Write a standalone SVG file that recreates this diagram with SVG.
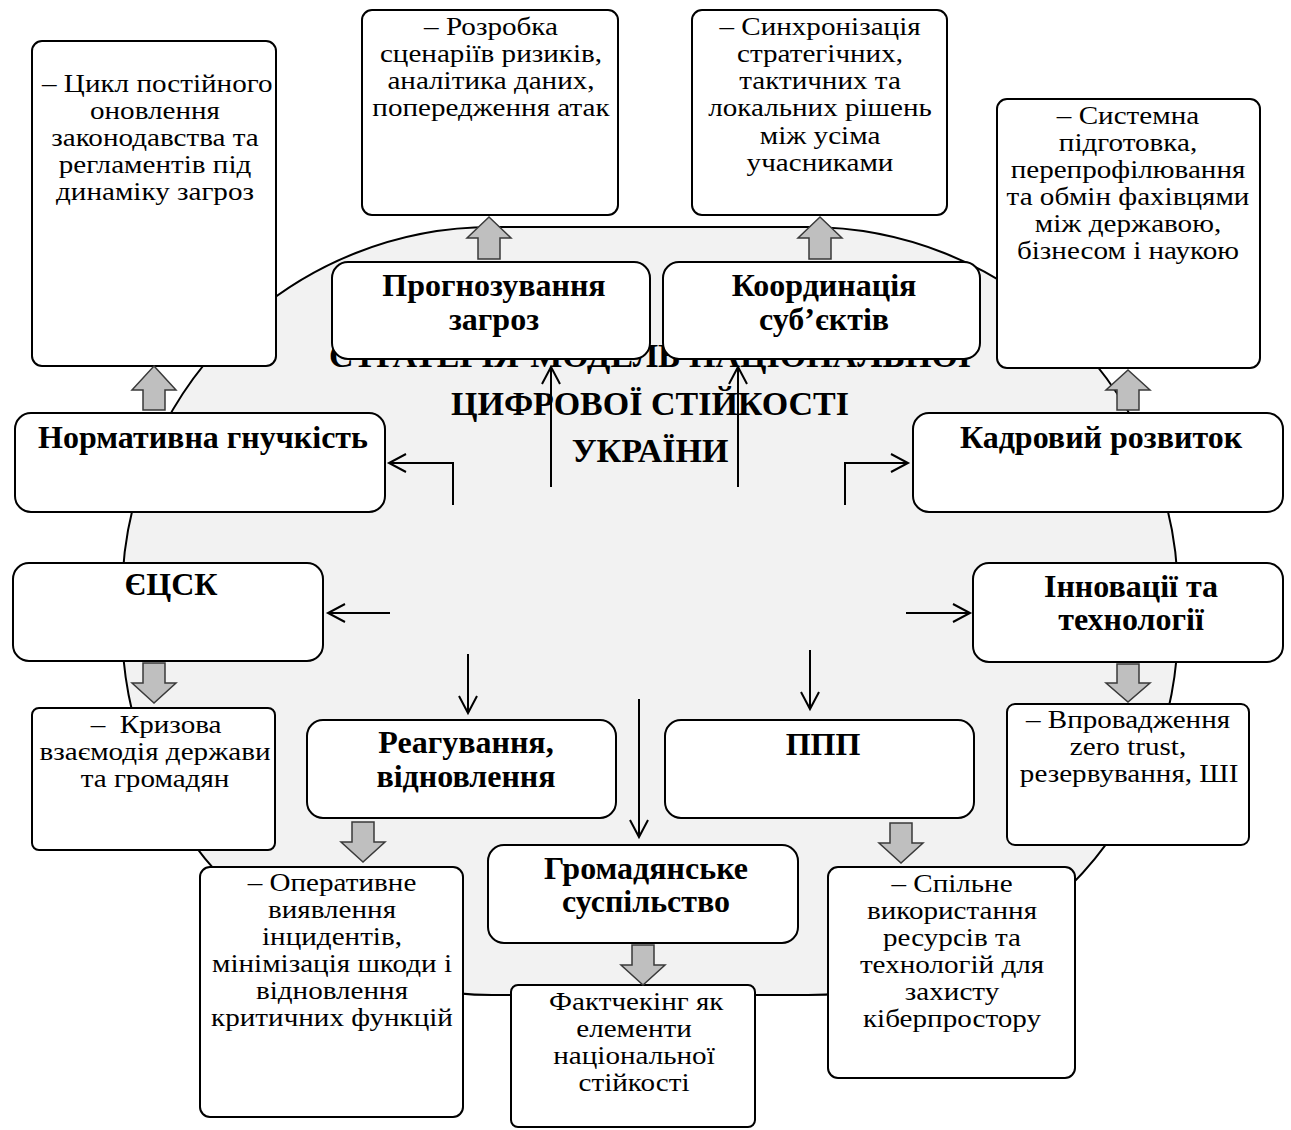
<svg xmlns="http://www.w3.org/2000/svg" width="1291" height="1130" viewBox="0 0 1291 1130">
<defs>
<style>
.bg{fill:#ffffff}
.core{fill:#f2f2f2;stroke:#000;stroke-width:2}
.c{fill:#fff;stroke:#000;stroke-width:2}
.n{fill:#fff;stroke:#000;stroke-width:2}
.ba{fill:#bfbfbf;stroke:#3a3a3a;stroke-width:1.5;stroke-linejoin:miter}
.ln{fill:none;stroke:#000;stroke-width:2}
.t{font-family:"Liberation Serif","Times New Roman",serif;font-size:26px;fill:#000;text-anchor:middle}
.h{font-family:"Liberation Serif","Times New Roman",serif;font-size:32px;font-weight:bold;fill:#000;text-anchor:middle}
.title{font-family:"Liberation Serif","Times New Roman",serif;font-size:34px;font-weight:bold;fill:#000;text-anchor:middle}
</style>
<marker id="ah" markerUnits="userSpaceOnUse" markerWidth="22" markerHeight="22" refX="18" refY="10" orient="auto">
<path d="M1,1 L18,10 L1,19" fill="none" stroke="#000" stroke-width="2"/>
</marker>
</defs>
<rect class="bg" x="0" y="0" width="1291" height="1130"/>
<g id="core">
<rect class="core" x="122" y="227" width="1056" height="768" rx="370" ry="370"/>
<text class="title"><tspan x="650" y="367">СТРАТЕГІЯ-МОДЕЛЬ НАЦІОНАЛЬНОЇ</tspan><tspan x="650" y="415">ЦИФРОВОЇ СТІЙКОСТІ</tspan><tspan x="650" y="462">УКРАЇНИ</tspan></text>
</g>
<g id="desc-law">
<rect class="c" x="32" y="41" width="244" height="325" rx="10"/>
<text class="t" transform="translate(155 0) scale(1.12 1)"><tspan x="2" y="92">– Цикл постійного</tspan><tspan x="0" y="119">оновлення</tspan><tspan x="0" y="146">законодавства та</tspan><tspan x="0" y="173">регламентів під</tspan><tspan x="0" y="200">динаміку загроз</tspan></text>
</g>
<g id="desc-forecast">
<rect class="c" x="362" y="10" width="256" height="205" rx="10"/>
<text class="t" transform="translate(491 0) scale(1.12 1)"><tspan x="0" y="35">– Розробка</tspan><tspan x="0" y="62">сценаріїв ризиків,</tspan><tspan x="0" y="89">аналітика даних,</tspan><tspan x="0" y="116">попередження атак</tspan></text>
</g>
<g id="desc-coord">
<rect class="c" x="692" y="10" width="255" height="205" rx="10"/>
<text class="t" transform="translate(820 0) scale(1.12 1)"><tspan x="0" y="35">– Синхронізація</tspan><tspan x="0" y="62">стратегічних,</tspan><tspan x="0" y="89">тактичних та</tspan><tspan x="0" y="116">локальних рішень</tspan><tspan x="0" y="144">між усіма</tspan><tspan x="0" y="171">учасниками</tspan></text>
</g>
<g id="desc-staff">
<rect class="c" x="997" y="99" width="263" height="269" rx="10"/>
<text class="t" transform="translate(1128 0) scale(1.12 1)"><tspan x="0" y="124">– Системна</tspan><tspan x="0" y="151">підготовка,</tspan><tspan x="0" y="178">перепрофілювання</tspan><tspan x="0" y="205">та обмін фахівцями</tspan><tspan x="0" y="232">між державою,</tspan><tspan x="0" y="259">бізнесом і наукою</tspan></text>
</g>
<g id="desc-crisis">
<rect class="c" x="32" y="708" width="243" height="142" rx="7"/>
<text class="t" transform="translate(155 0) scale(1.12 1)" xml:space="preserve"><tspan x="1" y="733">–  Кризова</tspan><tspan x="0" y="760">взаємодія держави</tspan><tspan x="0" y="787">та громадян</tspan></text>
</g>
<g id="desc-response">
<rect class="c" x="200" y="867" width="263" height="250" rx="10"/>
<text class="t" transform="translate(332 0) scale(1.12 1)"><tspan x="0" y="891">– Оперативне</tspan><tspan x="0" y="918">виявлення</tspan><tspan x="0" y="945">інцидентів,</tspan><tspan x="0" y="972">мінімізація шкоди і</tspan><tspan x="0" y="999">відновлення</tspan><tspan x="0" y="1026">критичних функцій</tspan></text>
</g>
<g id="desc-civil">
<rect class="c" x="511" y="985" width="244" height="142" rx="7"/>
<text class="t" transform="translate(634 0) scale(1.12 1)"><tspan x="2" y="1010">Фактчекінг як</tspan><tspan x="0" y="1037">елементи</tspan><tspan x="0" y="1064">національної</tspan><tspan x="0" y="1091">стійкості</tspan></text>
</g>
<g id="desc-ppp">
<rect class="c" x="828" y="867" width="247" height="211" rx="10"/>
<text class="t" transform="translate(952 0) scale(1.12 1)"><tspan x="0" y="892">– Спільне</tspan><tspan x="0" y="919">використання</tspan><tspan x="0" y="946">ресурсів та</tspan><tspan x="0" y="973">технологій для</tspan><tspan x="0" y="1000">захисту</tspan><tspan x="0" y="1027">кіберпростору</tspan></text>
</g>
<g id="desc-innov">
<rect class="c" x="1007" y="704" width="242" height="141" rx="8"/>
<text class="t" transform="translate(1128 0) scale(1.12 1)"><tspan x="0" y="728">– Впровадження</tspan><tspan x="0" y="755">zero trust,</tspan><tspan x="1" y="782">резервування, ШІ</tspan></text>
</g>
<g id="node-forecast">
<rect class="n" x="332" y="262" width="318" height="97" rx="16"/>
<text class="h"><tspan x="494" y="296">Прогнозування</tspan><tspan x="494" y="330">загроз</tspan></text>
</g>
<g id="node-coord">
<rect class="n" x="663" y="262" width="317" height="97" rx="16"/>
<text class="h"><tspan x="824" y="296">Координація</tspan><tspan x="824" y="330">суб’єктів</tspan></text>
</g>
<g id="node-law">
<rect class="n" x="15" y="413" width="370" height="99" rx="16"/>
<text class="h" x="203" y="448">Нормативна гнучкість</text>
</g>
<g id="node-staff">
<rect class="n" x="913" y="413" width="370" height="99" rx="16"/>
<text class="h" x="1101" y="448">Кадровий розвиток</text>
</g>
<g id="node-ecsk">
<rect class="n" x="13" y="563" width="310" height="98" rx="16"/>
<text class="h" x="171" y="595">ЄЦСК</text>
</g>
<g id="node-innov">
<rect class="n" x="973" y="563" width="310" height="99" rx="16"/>
<text class="h"><tspan x="1131" y="597">Інновації та</tspan><tspan x="1131" y="630">технології</tspan></text>
</g>
<g id="node-response">
<rect class="n" x="307" y="720" width="309" height="98" rx="16"/>
<text class="h"><tspan x="466" y="753">Реагування,</tspan><tspan x="466" y="787">відновлення</tspan></text>
</g>
<g id="node-ppp">
<rect class="n" x="665" y="720" width="309" height="98" rx="16"/>
<text class="h" x="823" y="755">ППП</text>
</g>
<g id="node-civil">
<rect class="n" x="488" y="845" width="310" height="98" rx="16"/>
<text class="h"><tspan x="646" y="879">Громадянське</tspan><tspan x="646" y="912">суспільство</tspan></text>
</g>
<g id="connectors">
<path class="ba" d="M154,366 L176,390 L165,390 L165,410 L143,410 L143,390 L132,390 Z"/>
<path class="ba" d="M489,217 L511,238 L500,238 L500,259 L478,259 L478,238 L467,238 Z"/>
<path class="ba" d="M820,217 L842,238 L831,238 L831,259 L809,259 L809,238 L798,238 Z"/>
<path class="ba" d="M1128,370 L1150,390 L1139,390 L1139,410 L1117,410 L1117,390 L1106,390 Z"/>
<path class="ba" d="M143,663 L165,663 L165,683 L176,683 L154,703 L132,683 L143,683 Z"/>
<path class="ba" d="M352,822 L374,822 L374,842 L385,842 L363,862 L341,842 L352,842 Z"/>
<path class="ba" d="M632,945 L654,945 L654,965 L665,965 L643,985 L621,965 L632,965 Z"/>
<path class="ba" d="M890,823 L912,823 L912,843 L923,843 L901,863 L879,843 L890,843 Z"/>
<path class="ba" d="M1117,664 L1139,664 L1139,683 L1150,683 L1128,702 L1106,683 L1117,683 Z"/>
<path class="ln" d="M453,505 V463 H389" marker-end="url(#ah)"/>
<path class="ln" d="M845,505 V463 H908" marker-end="url(#ah)"/>
<path class="ln" d="M551,487 V367" marker-end="url(#ah)"/>
<path class="ln" d="M738,487 V367" marker-end="url(#ah)"/>
<path class="ln" d="M390,613 H328" marker-end="url(#ah)"/>
<path class="ln" d="M906,613 H970" marker-end="url(#ah)"/>
<path class="ln" d="M468,654 V713" marker-end="url(#ah)"/>
<path class="ln" d="M639,699 V837" marker-end="url(#ah)"/>
<path class="ln" d="M810,650 V709" marker-end="url(#ah)"/>
</g>
</svg>
